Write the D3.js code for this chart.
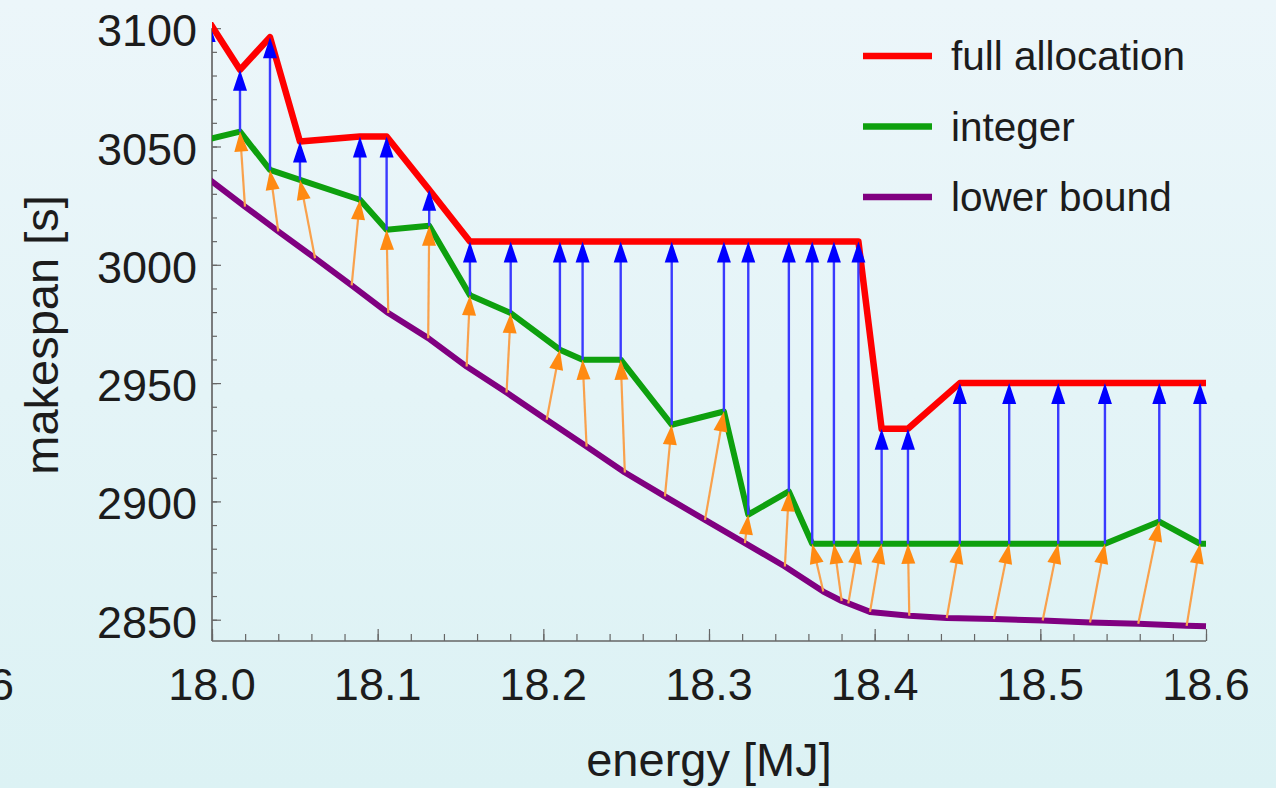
<!DOCTYPE html>
<html>
<head>
<meta charset="utf-8">
<title>makespan vs energy</title>
<script src="https://cdn.jsdelivr.net/npm/d3@7"></script>
<style>
  body { margin: 0; }
  text { font-family: "Liberation Sans", Arial, Helvetica, sans-serif; fill: #1c1c1c; }
</style>
</head>
<body>
<script>
// integer solutions (x shared with full allocation); last entry is the line end at 18.6
var energy = [17.998, 18.0169, 18.0350, 18.0531, 18.0893, 18.1054, 18.1311, 18.1557, 18.1803, 18.2100,
              18.2237, 18.2467, 18.2775, 18.3090, 18.3237, 18.3482, 18.3623, 18.3754, 18.3902, 18.4042,
              18.4201, 18.4514, 18.4812, 18.5108, 18.5390, 18.5718, 18.5964, 18.6];
var fullAlloc = [3103, 3082.4, 3096.2, 3052.1, 3054.2, 3054.2, 3031.7, 3009.8, 3009.8, 3009.8,
                 3009.8, 3009.8, 3009.8, 3009.8, 3009.8, 3009.8, 3009.8, 3009.8, 3009.8, 2930.7,
                 2930.7, 2950, 2950, 2950, 2950, 2950, 2950, 2950];
var integer = [3053.1, 3056.3, 3040.1, 3035.9, 3027.5, 3014.8, 3016.5, 2987.1, 2979.6, 2964.1,
               2959.9, 2959.9, 2932.4, 2938.0, 2894.4, 2904.2, 2882.1, 2882.1, 2882.1, 2882.1,
               2882.1, 2882.1, 2882.1, 2882.1, 2882.1, 2891.5, 2882.1, 2882.1];
// lower bound points (tails of the orange arrows)
var boundEnergy = [17.990, 18.0199, 18.0400, 18.0622, 18.0843, 18.1064, 18.1305, 18.1537, 18.1778, 18.2020,
                   18.2261, 18.2492, 18.2734, 18.2976, 18.3217, 18.3458, 18.3690, 18.3801, 18.3841, 18.3972,
                   18.4209, 18.4435, 18.4720, 18.5014, 18.5300, 18.5591, 18.5883, 18.6];
var lowerBound = [3040.6, 3024.6, 3014.1, 3002.8, 2991.3, 2979.6, 2969.0, 2957.0, 2946.0, 2934.5,
                  2923.2, 2912.2, 2902.1, 2892.2, 2882.4, 2872.5, 2861.9, 2857.9, 2856.9, 2853.3,
                  2851.7, 2850.7, 2850.3, 2849.7, 2848.8, 2848.3, 2847.4, 2847.2];

var xTicks = [18.0, 18.1, 18.2, 18.3, 18.4, 18.5, 18.6];
var yTicks = [2850, 2900, 2950, 3000, 3050, 3100];
var legendNames = ["full allocation", "integer", "lower bound"];
var legendColors = ["#ff0000", "#0ea00e", "#800080"];

var width = 1276, height = 788,
    plotLeft = 212, plotRight = 1206, plotTop = 28.2, plotBottom = 641;

var svg = d3.select("body").append("svg")
  .attr("width", width).attr("height", height);

var defs = svg.append("defs");
var grad = defs.append("linearGradient").attr("id", "bg")
  .attr("x1", 0).attr("y1", 0).attr("x2", 0).attr("y2", 1);
grad.append("stop").attr("offset", "0%").attr("stop-color", "#ecf6fa");
grad.append("stop").attr("offset", "100%").attr("stop-color", "#dcf2f4");
defs.append("clipPath").attr("id", "plotclip").append("rect")
  .attr("x", plotLeft).attr("y", 22).attr("width", plotRight - plotLeft + 6).attr("height", plotBottom - 22);

svg.append("rect").attr("width", width).attr("height", height).attr("fill", "url(#bg)");

var x = d3.scaleLinear().domain([18.0, 18.6]).range([plotLeft, plotRight]);
var y = d3.scaleLinear().domain([2841, 3100]).range([plotBottom, plotTop]);

// axes with inward ticks
var xMinor = d3.range(0, 31).map(function(i) { return 18.0 + i * 0.02; });
var yMinor = d3.range(2850, 3101, 10);

var gx = svg.append("g").attr("transform", "translate(0," + plotBottom + ")");
gx.call(d3.axisBottom(x).tickValues(xMinor).tickSize(-7).tickFormat(""));
gx.append("g").call(d3.axisBottom(x).tickValues(xTicks).tickSize(-12).tickFormat(""));
gx.selectAll("path, line").attr("stroke", "#666").attr("stroke-width", 1.2);
gx.selectAll(".domain").attr("d", "M" + plotLeft + ",0H" + plotRight);

var gy = svg.append("g").attr("transform", "translate(" + plotLeft + ",0)");
gy.call(d3.axisLeft(y).tickValues(yMinor).tickSize(-5).tickFormat(""));
gy.append("g").call(d3.axisLeft(y).tickValues(yTicks).tickSize(-9).tickFormat(""));
gy.selectAll("path, line").attr("stroke", "#666").attr("stroke-width", 1.2);
gy.selectAll(".domain").attr("d", "M0," + plotTop + "V" + plotBottom);

svg.selectAll(".xlab").data(xTicks).enter().append("text")
  .attr("x", function(d) { return x(d); })
  .attr("y", 700)
  .attr("text-anchor", "middle")
  .style("font-size", "45px")
  .text(function(d) { return d.toFixed(1); });

svg.selectAll(".ylab").data(yTicks).enter().append("text")
  .attr("x", 197)
  .attr("y", function(d) { return y(d) + 18; })
  .attr("text-anchor", "end")
  .style("font-size", "45px")
  .text(function(d) { return d; });

// cut-off label of the neighbouring panel
svg.append("text").attr("x", 14).attr("y", 700).attr("text-anchor", "end")
  .style("font-size", "45px").text("18.6");

svg.append("text")
  .attr("transform", "translate(58,335) rotate(-90)")
  .attr("text-anchor", "middle")
  .style("font-size", "47px")
  .text("makespan [s]");

svg.append("text")
  .attr("x", (plotLeft + plotRight) / 2).attr("y", 776)
  .attr("text-anchor", "middle")
  .style("font-size", "47px")
  .text("energy [MJ]");

var plot = svg.append("g").attr("clip-path", "url(#plotclip)");

var line = d3.line()
  .x(function(d) { return x(d[0]); })
  .y(function(d) { return y(d[1]); });

function series(xs, ys) {
  return xs.map(function(v, i) { return [v, ys[i]]; });
}

plot.append("path").datum(series(boundEnergy, lowerBound))
  .attr("d", line).attr("fill", "none").attr("stroke", "#800080")
  .attr("stroke-width", 6).attr("stroke-linejoin", "round");
plot.append("path").datum(series(energy, integer))
  .attr("d", line).attr("fill", "none").attr("stroke", "#0ea00e")
  .attr("stroke-width", 6).attr("stroke-linejoin", "round");
plot.append("path").datum(series(energy, fullAlloc))
  .attr("d", line).attr("fill", "none").attr("stroke", "#ff0000")
  .attr("stroke-width", 6.5).attr("stroke-linejoin", "round");

function arrow(g, x1, y1, x2, y2, shaft, head, sw, hl, hw) {
  var dx = x2 - x1, dy = y2 - y1, len = Math.sqrt(dx * dx + dy * dy);
  if (len < 1) return;
  var ux = dx / len, uy = dy / len;
  var bx = x2 - ux * hl, by = y2 - uy * hl;
  g.append("line")
    .attr("x1", x1).attr("y1", y1).attr("x2", bx + ux * 2).attr("y2", by + uy * 2)
    .attr("stroke", shaft).attr("stroke-width", sw);
  g.append("path")
    .attr("d", "M" + x2 + "," + y2 +
      "L" + (bx - uy * hw / 2) + "," + (by + ux * hw / 2) +
      "L" + (bx + uy * hw / 2) + "," + (by - ux * hw / 2) + "Z")
    .attr("fill", head);
}

var n = energy.length - 1;
var orange = plot.append("g");
var blue = plot.append("g");
for (var i = 0; i < n; i++) {
  arrow(orange, x(boundEnergy[i]), y(lowerBound[i]), x(energy[i]), y(integer[i]),
        "#f9a14c", "#ff8a12", 2.2, 20, 14);
  arrow(blue, x(energy[i]), y(integer[i]), x(energy[i]), y(fullAlloc[i]),
        "#3a3aff", "#0000ff", 2.4, 21, 14);
}

// legend
var lg = svg.append("g");
legendNames.forEach(function(name, i) {
  var ly = 56 + i * 70.5;
  lg.append("line").attr("x1", 863).attr("x2", 932).attr("y1", ly).attr("y2", ly)
    .attr("stroke", legendColors[i]).attr("stroke-width", 6.5);
  lg.append("text").attr("x", 951).attr("y", ly + 14)
    .style("font-size", "40.5px").text(name);
});
</script>
</body>
</html>
